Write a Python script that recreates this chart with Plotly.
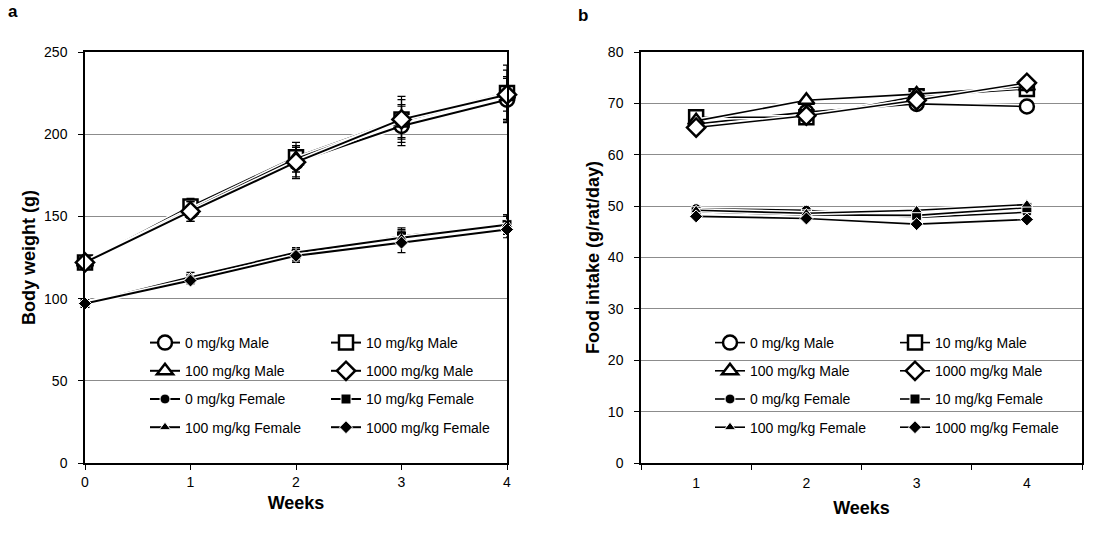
import plotly.graph_objects as go

# ---------------- data ----------------
weeks_bw = [0, 1, 2, 3, 4]
weeks_fi = [1, 2, 3, 4]
week_ticks = ["1", "2", "3", "4"]

series_names = ["0 mg/kg Male", "10 mg/kg Male", "100 mg/kg Male", "1000 mg/kg Male",
                "0 mg/kg Female", "10 mg/kg Female", "100 mg/kg Female", "1000 mg/kg Female"]

# Body weight (g), mean and SD
bw_male_0 = [122, 153, 183, 205, 221]
bw_male_10 = [122, 156, 186, 209, 225]
bw_male_100 = [122, 154, 185, 208, 224]
bw_male_1000 = [122, 153, 183, 209, 224]
bw_fem_0 = [97, 113, 127, 138, 145]
bw_fem_10 = [97, 112, 127, 138, 145]
bw_fem_100 = [97, 113, 128, 137, 145]
bw_fem_1000 = [97, 111, 126, 134, 142]

sd_male_0 = [3, 6, 10, 12, 14]
sd_male_10 = [3, 5, 9, 14, 17]
sd_male_100 = [3, 5, 8, 10, 10]
sd_male_1000 = [3, 6, 9, 12, 15]
sd_fem_0 = [2, 2, 4, 5, 6]
sd_fem_10 = [2, 2, 3, 4, 5]
sd_fem_100 = [2, 3, 3, 4, 6]
sd_fem_1000 = [2, 2, 4, 6, 5]

# Food intake (g/rat/day)
fi_male_0 = [66.0, 68.3, 69.9, 69.4]
fi_male_10 = [67.3, 67.3, 71.4, 72.8]
fi_male_100 = [66.6, 70.6, 71.8, 73.3]
fi_male_1000 = [65.3, 67.6, 70.6, 74.0]
fi_fem_0 = [49.5, 49.2, 47.8, 48.8]
fi_fem_10 = [48.9, 48.3, 48.2, 49.7]
fi_fem_100 = [49.2, 48.6, 49.2, 50.3]
fi_fem_1000 = [48.0, 47.6, 46.5, 47.4]

bw_values = [bw_male_0, bw_male_10, bw_male_100, bw_male_1000,
             bw_fem_0, bw_fem_10, bw_fem_100, bw_fem_1000]
bw_sds = [sd_male_0, sd_male_10, sd_male_100, sd_male_1000,
          sd_fem_0, sd_fem_10, sd_fem_100, sd_fem_1000]
fi_values = [fi_male_0, fi_male_10, fi_male_100, fi_male_1000,
             fi_fem_0, fi_fem_10, fi_fem_100, fi_fem_1000]

symbols = ["circle", "square", "triangle-up", "diamond"] * 2

FONT = "Liberation Sans, Arial, sans-serif"

fig = go.Figure()


def add_series(xs, ys, sds, i, xaxis, yaxis, legend, lw):
    male = i < 4
    # white halo under the line
    fig.add_trace(go.Scatter(
        x=xs, y=ys, mode="lines", xaxis=xaxis, yaxis=yaxis,
        line=dict(color="white", width=lw + 3), showlegend=False, hoverinfo="skip",
        cliponaxis=False))
    marker = (dict(symbol=symbols[i], size=14, color="white",
                   line=dict(color="black", width=2.5)) if male else
              dict(symbol=symbols[i], size=10, color="black",
                   line=dict(color="white", width=1)))
    err = None
    if sds is not None:
        err = dict(type="data", array=sds, visible=True, color="black",
                   thickness=1.2, width=4)
    col = i % 2
    fig.add_trace(go.Scatter(
        x=xs, y=ys, mode="lines+markers", xaxis=xaxis, yaxis=yaxis,
        name=series_names[i], legendgroup=f"{legend[col]}{i}",
        legend=legend[col],
        line=dict(color="black", width=lw), marker=marker,
        error_y=err, cliponaxis=False))


for i in range(8):
    add_series(weeks_bw, bw_values[i], bw_sds[i], i, "x", "y", ["legend", "legend2"], 2.0)
for i in range(8):
    add_series(weeks_fi, fi_values[i], None, i, "x2", "y2", ["legend3", "legend4"], 1.6)

L, R, T, B = 85, 31, 52, 76
W, H = 1113, 539
pw = W - L - R


def px2paper(px):
    return (px - L) / pw


axis_common = dict(showline=True, linecolor="black", linewidth=1.5, mirror=True,
                   tickfont=dict(family=FONT, size=14, color="black"),
                   ticks="outside", ticklen=5, tickcolor="black", tickwidth=1.2,
                   zeroline=False)

fig.update_layout(
    width=W, height=H,
    margin=dict(l=L, r=R, t=T, b=B),
    paper_bgcolor="white", plot_bgcolor="white",
    font=dict(family=FONT, color="black"),
    xaxis=dict(domain=[0, px2paper(507)], range=[0, 4], tickvals=weeks_bw,
               showgrid=False, anchor="y",
               title=dict(text="<b>Weeks</b>", font=dict(size=18), standoff=8),
               **axis_common),
    yaxis=dict(domain=[0, 1], range=[0, 250], dtick=50, anchor="x",
               showgrid=True, gridcolor="#8c8c8c", gridwidth=1, ticklabelstandoff=8,
               title=dict(text="<b>Body weight (g)</b>", font=dict(size=18), standoff=4),
               **axis_common),
    xaxis2=dict(domain=[px2paper(641), 1], range=[0.5, 4.5], tickvals=weeks_fi,
                ticktext=week_ticks, showgrid=False, anchor="y2", ticklabelstandoff=6,
                title=dict(text="<b>Weeks</b>", font=dict(size=18), standoff=12),
                **{**axis_common, "ticks": ""},
                minor=dict(tickvals=[0.5, 1.5, 2.5, 3.5, 4.5], ticks="outside",
                           ticklen=5, tickcolor="black", tickwidth=1.2, showgrid=False)),
    yaxis2=dict(domain=[0, 1], range=[0, 80], dtick=10, anchor="x2",
                showgrid=True, gridcolor="#8c8c8c", gridwidth=1, ticklabelstandoff=8,
                title=dict(text="<b>Food intake (g/rat/day)</b>", font=dict(size=18), standoff=4),
                **axis_common),
    showlegend=True,
)

legend_common = dict(yanchor="top", xanchor="left", orientation="v",
                     bgcolor="rgba(0,0,0,0)", borderwidth=0, itemwidth=30,
                     tracegroupgap=7, font=dict(family=FONT, size=14, color="black"),
                     itemclick=False, itemdoubleclick=False)
ly = (463 - 327) / 411
fig.update_layout(
    legend=dict(x=px2paper(145), y=ly, **legend_common),
    legend2=dict(x=px2paper(326), y=ly, **legend_common),
    legend3=dict(x=px2paper(710), y=ly, **legend_common),
    legend4=dict(x=px2paper(895), y=ly, **legend_common),
)

fig.add_annotation(text="<b>a</b>", xref="paper", yref="paper", x=px2paper(6),
                   y=1 + (52 - 12) / 411, xanchor="left", yanchor="middle",
                   showarrow=False, font=dict(family=FONT, size=17))
fig.add_annotation(text="<b>b</b>", xref="paper", yref="paper", x=px2paper(576),
                   y=1 + (52 - 15) / 411, xanchor="left", yanchor="middle",
                   showarrow=False, font=dict(family=FONT, size=17))

fig.write_html("out.html", config={"displayModeBar": False},
               post_script="document.body.style.margin='0';")
